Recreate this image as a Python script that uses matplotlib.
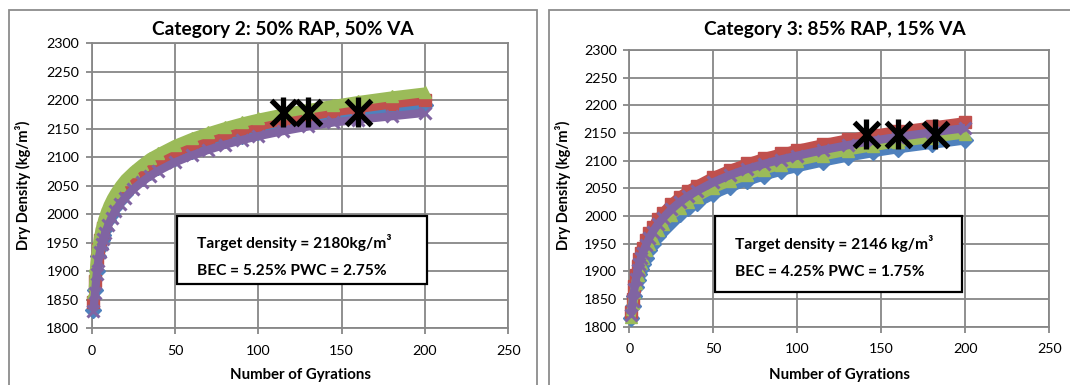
import matplotlib
matplotlib.use("Agg")
import matplotlib.pyplot as plt
from matplotlib.patches import Rectangle

plt.rcParams['font.family'] = ['Lato', 'DejaVu Sans']

# ---------------- data ----------------
gyr = [1, 2, 3, 4, 5, 6, 7, 8, 10, 12, 14, 17, 20, 25, 30, 35, 40, 50, 60, 70,
       80, 90, 100, 115, 130, 145, 160, 180, 200]

# Category 2: 50% RAP, 50% VA
c2_blue = [1832, 1866, 1900, 1926, 1941, 1954, 1964, 1973, 1989, 2001, 2012, 2025, 2036, 2051, 2063,
           2074, 2083, 2098, 2110, 2121, 2130, 2138, 2145, 2155, 2163, 2170, 2177, 2185, 2192]
c2_red = [1846, 1882, 1919, 1939, 1954, 1966, 1976, 1985, 2000, 2012, 2023, 2036, 2047, 2062, 2074,
          2084, 2093, 2108, 2120, 2131, 2140, 2148, 2155, 2164, 2172, 2180, 2186, 2194, 2201]
c2_green = [1864, 1910, 1936, 1955, 1970, 1982, 1992, 2001, 2016, 2028, 2038, 2051, 2062, 2076, 2088,
            2099, 2107, 2122, 2134, 2144, 2153, 2161, 2168, 2177, 2185, 2192, 2199, 2207, 2214]
c2_purple = [1830, 1862, 1894, 1918, 1934, 1947, 1957, 1966, 1981, 1994, 2005, 2018, 2029, 2044, 2056,
             2067, 2076, 2091, 2103, 2113, 2122, 2130, 2137, 2146, 2154, 2161, 2166, 2172, 2178]
c2_target_x = [115, 130, 160]
c2_target_y = [2180, 2180, 2180]

# Category 3: 85% RAP, 15% VA
c3_blue = [1815, 1837, 1856, 1871, 1884, 1895, 1905, 1913, 1925, 1938, 1949, 1963, 1974, 1990, 2003,
           2014, 2023, 2039, 2052, 2063, 2073, 2081, 2088, 2098, 2107, 2115, 2122, 2130, 2138]
c3_red = [1826, 1850, 1874, 1894, 1910, 1922, 1934, 1943, 1957, 1970, 1981, 1995, 2006, 2022, 2035,
          2046, 2055, 2071, 2084, 2095, 2105, 2113, 2120, 2130, 2139, 2147, 2154, 2162, 2170]
c3_green = [1818, 1842, 1862, 1879, 1893, 1905, 1915, 1924, 1938, 1950, 1961, 1975, 1986, 2001, 2014,
            2025, 2034, 2050, 2063, 2074, 2084, 2092, 2099, 2109, 2118, 2126, 2133, 2141, 2149]
c3_purple = [1822, 1846, 1868, 1887, 1902, 1914, 1925, 1934, 1948, 1961, 1972, 1985, 1996, 2012, 2025,
             2036, 2045, 2061, 2074, 2085, 2094, 2102, 2109, 2119, 2128, 2136, 2143, 2151, 2159]
c3_target_x = [141, 160, 182]
c3_target_y = [2149, 2149, 2149]

titles = ["Category 2: 50% RAP, 50% VA", "Category 3: 85% RAP, 15% VA"]
box_lines = [["Target density = 2180kg/m\u00b3", "BEC = 5.25% PWC = 2.75%"],
             ["Target density = 2146 kg/m\u00b3", "BEC = 4.25% PWC = 1.75%"]]
xticks = [0, 50, 100, 150, 200, 250]
yticks = [1800, 1850, 1900, 1950, 2000, 2050, 2100, 2150, 2200, 2250, 2300]

# ---------------- styling ----------------
BLUE, RED, GREEN, PURPLE = "#4F81BD", "#C0504D", "#9BBB59", "#8064A2"
GRID = "#878787"
W, H = 1070, 385

fig = plt.figure(figsize=(W / 100, H / 100), dpi=100)


def px_rect(x0, y0, x1, y1):
    fig.patches.append(Rectangle((x0 / W, 1 - y1 / H), (x1 - x0) / W, (y1 - y0) / H,
                                 transform=fig.transFigure, fill=False,
                                 edgecolor="#8C8C8C", lw=1.3))


px_rect(8.5, 10.5, 537, 400)
px_rect(549, 10.5, 1100, 400)

axes_px = [(91.7, 43.3, 508.3, 328.0), (629.3, 50.0, 1049.3, 326.7)]
series = [
    (c2_blue, c2_red, c2_green, c2_purple, c2_target_x, c2_target_y),
    (c3_blue, c3_red, c3_green, c3_purple, c3_target_x, c3_target_y),
]
title_x = [283, 835]
ylab_x = [23, 563]
# (x, y, width, height, text-x frac, line1 frac, line2 frac)
box_rect = [(51, 1878, 150, 119, 0.08, 0.60, 0.18),
            (51, 1862, 147, 138, 0.08, 0.64, 0.27)]

for i, (x0, y0, x1, y1) in enumerate(axes_px):
    ax = fig.add_axes([x0 / W, 1 - y1 / H, (x1 - x0) / W, (y1 - y0) / H])
    ax.set_xlim(0, 250)
    ax.set_ylim(1800, 2300)
    ax.set_xticks(xticks)
    ax.set_yticks(yticks)
    ax.grid(True, color=GRID, lw=1.3, zorder=0)
    ax.set_axisbelow(True)
    for s in ax.spines.values():
        s.set_color(GRID)
        s.set_linewidth(1.3)
    ax.tick_params(axis="both", direction="out", length=4, width=1.3, color=GRID,
                   labelsize=10.3, pad=5)
    ax.tick_params(axis="x", pad=8)

    b, r, g, p, tx, ty = series[i]
    lw_band = 7
    ax.plot(gyr, b, color=BLUE, lw=lw_band, marker="D", ms=8.5, mec=BLUE,
            solid_capstyle="butt", zorder=3, clip_on=False)
    ax.plot(gyr, r, color=RED, lw=lw_band, marker="s", ms=8, mec=RED,
            solid_capstyle="butt", zorder=3, clip_on=False)
    ax.plot(gyr, g, color=GREEN, lw=lw_band, marker="^", ms=8.5, mec=GREEN,
            solid_capstyle="butt", zorder=3, clip_on=False)
    ax.plot(gyr, p, color=PURPLE, lw=lw_band - 1, marker="x", ms=8, mew=2.2, mec=PURPLE,
            solid_capstyle="butt", zorder=3, clip_on=False)

    ax.plot(tx, ty, ls="none", marker="x", ms=18, mew=3.8, color="black", zorder=5)
    ax.plot(tx, ty, ls="none", marker="|", ms=21, mew=3.8, color="black", zorder=5)

    bx, by, bw, bh, fx, f1, f2 = box_rect[i]
    ax.add_patch(Rectangle((bx, by), bw, bh, facecolor="white", edgecolor="black",
                           lw=1.6, zorder=4))
    ax.text(bx + fx * bw, by + f1 * bh, box_lines[i][0], fontsize=11.2,
            fontweight="bold", va="center", ha="left", zorder=6)
    ax.text(bx + fx * bw, by + f2 * bh, box_lines[i][1], fontsize=11.2,
            fontweight="bold", va="center", ha="left", zorder=6)

    fig.text(title_x[i] / W, 1 - 29 / H, titles[i], fontsize=13.8, fontweight="bold",
             ha="center", va="center")
    fig.text(((x0 + x1) / 2) / W, 1 - 375 / H, "Number of Gyrations", fontsize=10.8,
             fontweight="bold", ha="center", va="center")
    fig.text(ylab_x[i] / W, 1 - 185 / H, "Dry Density (kg/m\u00b3)", fontsize=10.5,
             fontweight="bold", ha="center", va="center", rotation=90)

fig.savefig("out.png", dpi=100)
